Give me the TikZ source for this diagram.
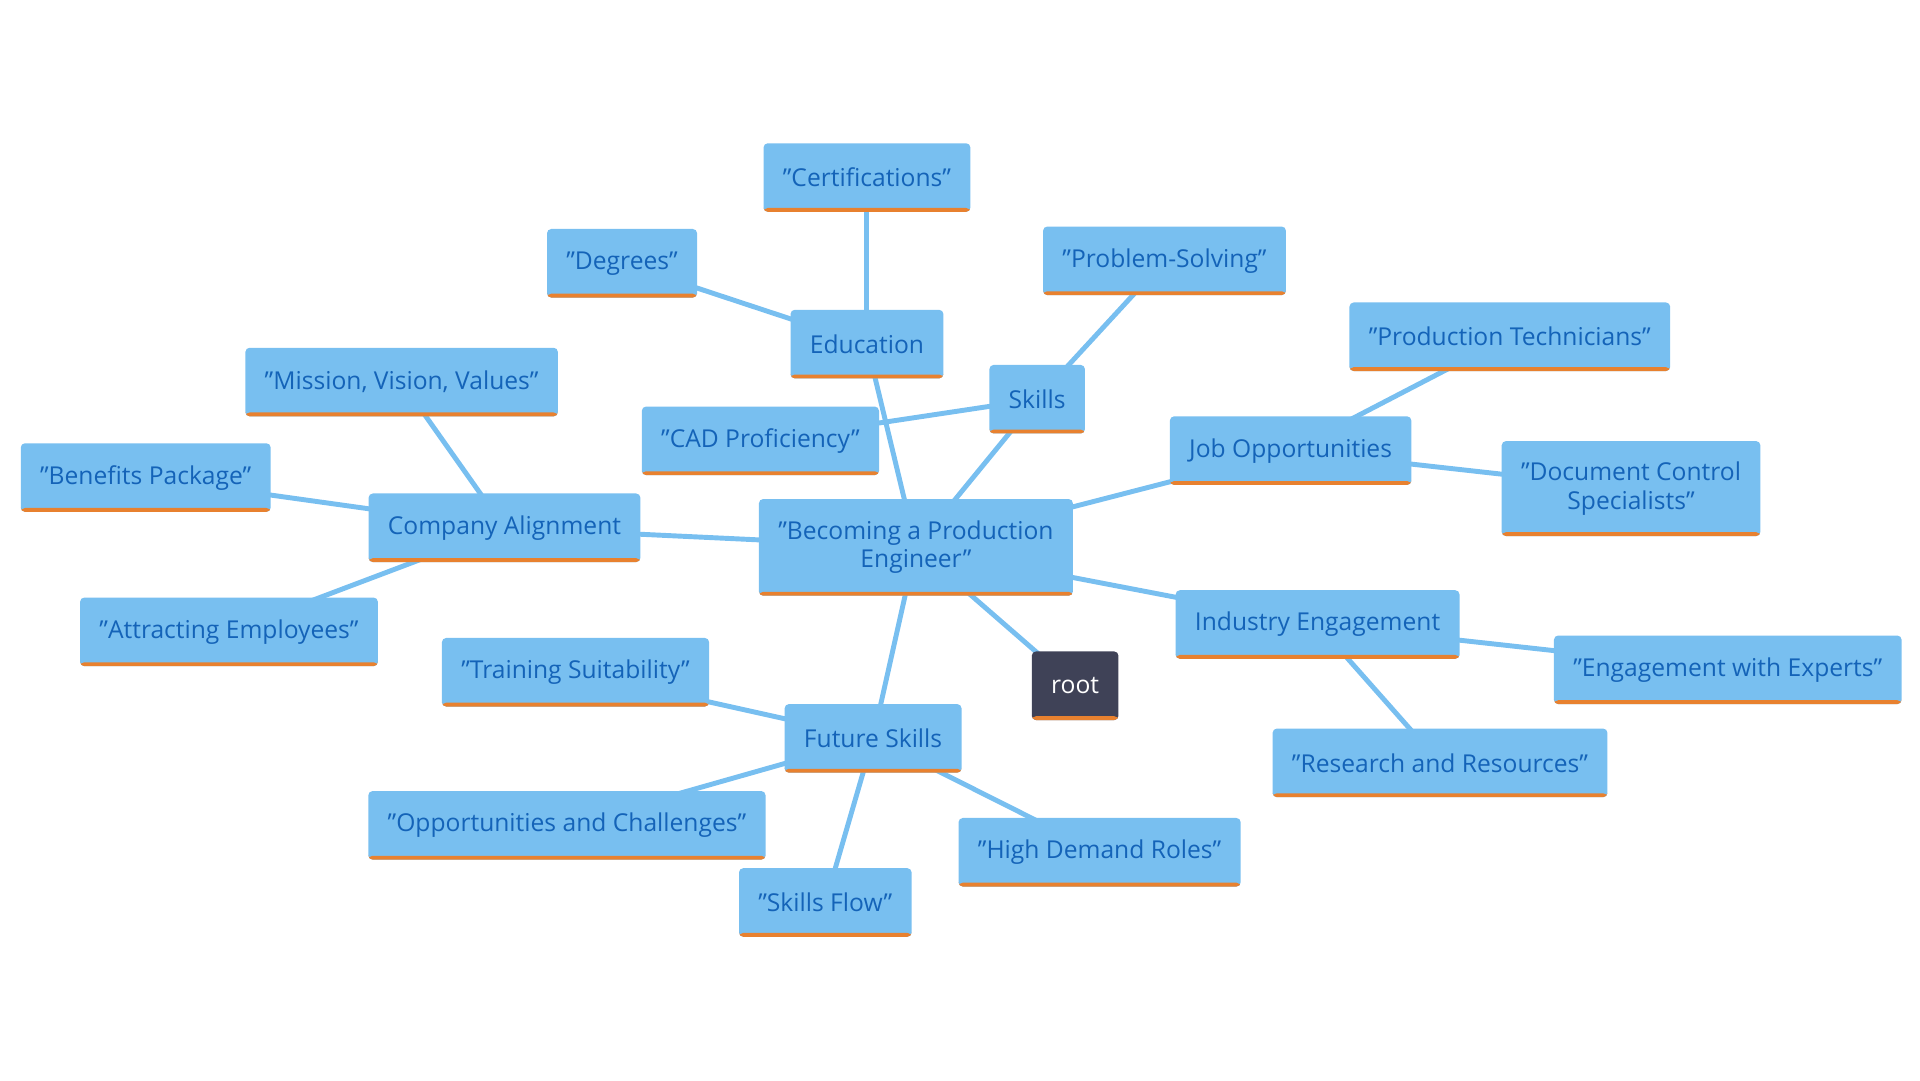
\documentclass[tikz,border=0pt]{standalone}
\usepackage{fontspec}
\setmainfont{Open Sans}
\usetikzlibrary{backgrounds}
\definecolor{boxblue}{HTML}{78BFF0}
\definecolor{txtblue}{HTML}{1463B8}
\definecolor{stripe}{HTML}{E8812F}
\definecolor{rootgray}{HTML}{3F4257}
\tikzset{
  idea/.style={fill=boxblue, text=txtblue, rounded corners=1.2pt, align=center,
    minimum height=19.5pt, inner xsep=5.5pt, font=\fontsize{7}{8}\selectfont,
    path picture={\fill[stripe] (path picture bounding box.south west)
      rectangle ([yshift=1.1pt]path picture bounding box.south east);}},
  rootbox/.style={idea, fill=rootgray, text=white},
  link/.style={draw=boxblue, line width=1.4pt}
}
\begin{document}
\begin{tikzpicture}[x=0.012245cm, y=-0.012245cm]
    \useasboundingbox (0,0) rectangle (1568,882);

    % centre
    \node[idea, minimum width=86.5pt, minimum height=27.5pt] (main) at (748,447) {"Becoming a Production\\Engineer"};
    \node[rootbox] (root) at (878,560) {root};

    % Education
    \node[idea] (edu) at (708,281) {Education};
    \node[idea] (cert) at (708,145) {"Certifications"};
    \node[idea] (deg) at (508,215) {"Degrees"};

    % Skills
    \node[idea] (skills) at (847,326) {Skills};
    \node[idea] (prob) at (951,213) {"Problem-Solving"};
    \node[idea] (cad) at (621,360) {"CAD Proficiency"};

    % Job Opportunities
    \node[idea] (jobs) at (1054,368) {Job Opportunities};
    \node[idea] (tech) at (1233,275) {"Production Technicians"};
    \node[idea, minimum height=27pt] (docs) at (1332,399) {"Document Control\\Specialists"};

    % Industry Engagement
    \node[idea] (ind) at (1076,510) {Industry Engagement};
    \node[idea] (exp) at (1411,547) {"Engagement with Experts"};
    \node[idea] (res) at (1176,623) {"Research and Resources"};

    % Future Skills
    \node[idea] (fut) at (713,603) {Future Skills};
    \node[idea] (train) at (470,549) {"Training Suitability"};
    \node[idea] (opp) at (463,674) {"Opportunities and Challenges"};
    \node[idea] (flow) at (674,737) {"Skills Flow"};
    \node[idea] (high) at (898,696) {"High Demand Roles"};

    % Company Alignment
    \node[idea] (comp) at (412,431) {Company Alignment};
    \node[idea] (miss) at (328,312) {"Mission, Vision, Values"};
    \node[idea] (ben) at (119,390) {"Benefits Package"};
    \node[idea] (attr) at (187,516) {"Attracting Employees"};

    \begin{pgfonlayer}{background}
        \foreach \a/\b in {main/root, main/edu, main/skills, main/jobs, main/ind,
            main/fut, main/comp, edu/cert, edu/deg, skills/prob, skills/cad,
            jobs/tech, jobs/docs, ind/exp, ind/res, fut/train, fut/opp,
            fut/flow, fut/high, comp/miss, comp/ben, comp/attr}
            \draw[link] (\a.center) -- (\b.center);
    \end{pgfonlayer}
\end{tikzpicture}
\end{document}
